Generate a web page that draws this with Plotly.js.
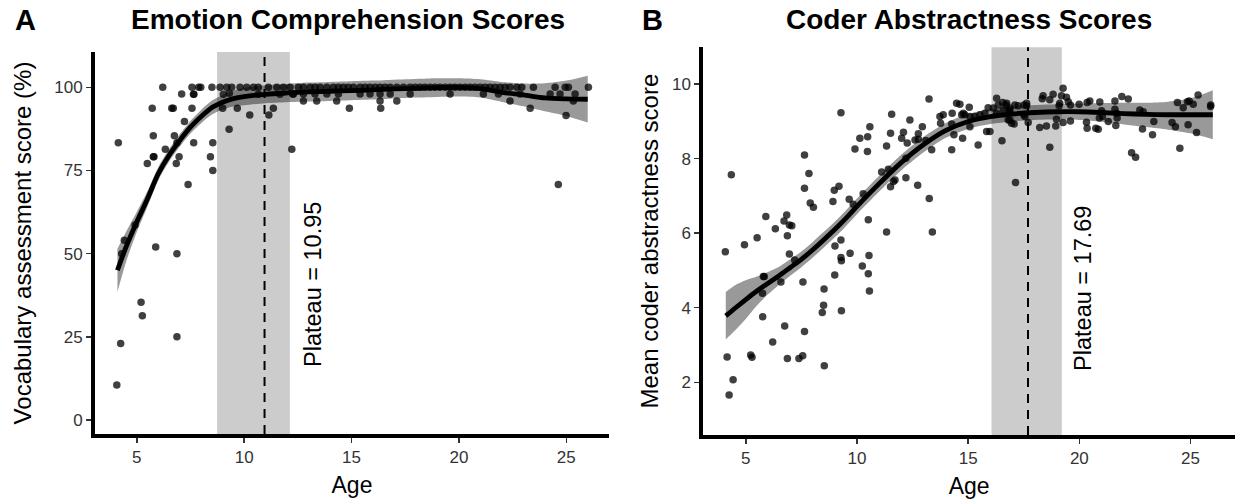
<!DOCTYPE html>
<html>
<head>
<meta charset="utf-8">
<script src="https://cdn.plot.ly/plotly-3.0.1.min.js"></script>
<style>html,body{margin:0;padding:0;background:#fff;}#chart{width:1238px;height:502px;}</style>
</head>
<body>
<div id="chart"></div>
<script>
// ---------- Panel A: Emotion Comprehension ----------
const ecAge = [4.14,4.07,4.25,4.30,4.42,4.92,5.20,5.26,5.88,5.49,5.77,5.80,5.77,5.72,6.21,6.33,6.63,6.70,6.75,6.87,6.84,6.97,6.87,6.87,7.09,7.22,7.39,7.57,7.64,7.66,7.65,7.57,7.88,7.98,8.43,8.54,8.54,8.50,8.88,9.19,9.42,9.00,9.03,9.31,9.30,9.68,9.81,10.12,10.43,10.66,10.26,10.66,11.15,11.36,11.13,11.52,11.83,12.14,11.67,12.29,12.22,
  12.52,12.76,13.07,13.30,13.54,13.85,14.15,14.39,14.62,14.85,15.09,15.40,15.63,15.86,16.10,16.33,16.56,16.80,17.11,17.42,17.73,17.96,18.19,18.42,18.66,18.89,19.12,19.36,19.59,19.82,20.05,20.29,20.52,20.75,20.99,21.22,21.45,21.68,21.92,22.15,22.38,22.70,22.93,23.47,24.48,24.95,25.10,26.03,
  12.26,12.76,13.30,13.85,14.39,15.40,15.86,16.33,16.80,17.73,19.59,21.14,21.84,22.85,24.25,24.71,25.41,
  12.76,13.38,14.31,16.33,17.11,22.38,25.33,
  14.90,16.36,23.32,24.99,24.63];
const ecScore = [83.3,10.5,23.0,50.0,54.0,58.6,35.4,31.3,52.0,77.1,79.1,79.1,85.4,93.7,100,81.4,93.7,93.7,85.4,83.3,77.1,79.1,50.0,25.0,98.0,89.7,70.8,93.7,97.9,97.9,83.3,100,100,100,79.1,83.3,75.0,100,100,100,100,93.7,97.9,98.2,87.4,93.7,100,100,100,100,91.7,97.9,91.7,93.7,100,100,100,100,97.9,97.9,81.4,
  100,100,100,100,100,100,100,100,100,100,100,100,100,100,100,100,100,100,100,100,100,100,100,100,100,100,100,100,100,100,100,100,100,100,100,100,100,100,100,100,100,100,100,100,100,100,100,100,
  98,98,98,98,98,98,98,98,98,98,98,98,98,98,98,98,98,
  95.9,95.9,95.9,95.9,95.9,95.9,95.9,
  93.7,93.7,93.7,91.5,70.8];
const ecFitAge = [4.1,4.5,5,5.5,6,6.5,7,7.5,8,8.5,9,9.5,10,11,12,13,14,15,16,17,18,19,20,21,22,23,24,25,26];
const ecFit    = [45,52,59.5,66.5,74,79.5,84,88,91.2,93.9,95.5,96.6,97.2,97.9,98.3,98.6,98.8,99,99.2,99.5,99.7,99.9,100,99.6,98.5,97.7,96.8,96.5,96.4];
const ecFitLo  = [38.5,47.5,56.5,64.2,72,77.6,82.1,86.1,89.2,91.8,93.3,94.2,94.6,95.2,95.5,95.7,95.9,96.1,96.3,96.6,96.9,97.1,97.2,96.9,95.6,94.3,92.8,91.4,89.4];
const ecFitHi  = [51.5,56.5,62.5,68.8,76,81.4,85.9,89.9,93.2,96,97.7,99,99.8,100.6,101,101.4,101.6,101.8,102,102.3,102.5,102.7,102.7,102.4,101.6,101.1,101.2,102,103.5];
const ecPlateau = 10.95, ecPlateauLo = 8.74, ecPlateauHi = 12.13;

// ---------- Panel B: Coder Abstractness ----------
const caAge = [4.08,4.35,4.16,4.43,4.25,4.94,5.51,5.90,6.33,5.79,5.83,5.75,5.76,5.22,5.28,6.21,6.75,6.58,6.87,7.39,7.56,7.64,7.57,6.84,6.72,6.96,7.07,6.87,6.96,7.20,7.64,7.84,7.64,7.90,8.04,8.52,8.50,8.44,8.53,9.00,9.01,9.28,9.28,9.30,9.30,8.92,8.98,9.19,9.28,9.69,9.65,9.83,10.28,10.24,9.91,10.13,10.48,10.47,10.58,10.51,10.54,10.51,10.56,
  13.24,11.56,11.51,11.33,12.09,12.01,12.26,12.38,12.76,12.94,12.61,12.76,13.10,13.36,12.20,11.11,11.41,11.64,11.71,11.51,12.20,12.73,13.25,11.33,13.39,13.76,13.88,14.28,14.48,14.63,14.26,14.36,14.26,14.75,14.71,14.85,15.05,15.08,15.30,15.53,15.75,15.90,15.08,15.45,15.83,15.98,16.28,16.13,16.35,16.55,16.70,17.10,16.28,16.58,16.85,17.25,16.88,17.07,16.52,17.13,
  13.73,14.78,16.95,17.70,18.22,18.52,
  19.27,18.37,18.82,19.20,18.33,18.67,19.42,19.50,19.60,16.73,16.88,17.51,17.63,16.88,17.51,17.63,16.80,17.55,18.94,18.97,19.27,19.60,19.09,19.12,18.67,19.99,20.35,20.47,20.92,21.00,21.04,20.32,20.35,20.74,20.85,20.90,21.30,21.60,21.91,22.20,21.60,21.67,21.70,21.64,22.35,22.53,22.72,22.87,22.84,23.35,23.29,24.17,24.32,24.41,24.67,24.86,24.94,25.12,24.89,25.34,25.27,24.52,25.90,25.91];
const caScore = [5.50,7.57,2.68,2.07,1.66,5.69,5.88,6.45,6.12,4.84,4.84,4.39,3.76,2.73,2.67,3.08,3.51,4.69,2.64,2.64,2.71,3.36,4.69,6.49,6.33,6.22,6.20,5.93,5.44,5.28,8.10,7.60,7.21,6.81,6.70,4.50,4.07,3.87,2.44,4.88,5.66,5.82,5.35,5.26,3.92,6.85,7.15,7.26,9.23,5.46,6.91,6.78,7.06,5.12,8.26,8.55,8.59,8.19,8.86,6.36,5.40,4.91,4.45,
  9.60,9.19,8.68,8.34,8.71,8.55,8.42,9.04,8.67,8.86,8.50,8.52,8.49,8.24,8.01,7.64,7.72,7.39,7.43,7.25,7.49,7.29,6.93,6.03,6.03,8.95,9.18,9.22,9.49,9.46,8.93,8.64,8.24,8.55,9.18,9.18,9.38,9.13,9.13,9.18,9.22,9.37,8.86,8.37,8.73,8.73,9.62,9.36,9.44,9.51,9.44,9.44,9.22,9.31,9.31,9.42,9.04,8.93,8.48,7.36,
  9.13,9.22,8.95,8.97,8.84,8.88,
  9.89,9.69,9.73,9.69,9.61,9.58,9.65,9.53,9.44,9.49,9.36,9.44,9.49,9.26,9.18,9.42,9.04,9.13,8.88,9.06,8.97,9.01,9.42,9.49,8.31,9.46,9.51,9.55,9.52,9.29,9.13,8.98,8.82,8.82,8.79,9.09,9.00,9.55,9.67,9.60,9.33,9.22,9.09,8.89,8.16,8.04,9.31,9.26,8.80,9.00,8.64,8.97,8.86,9.51,9.37,9.53,9.55,9.46,8.91,9.71,8.70,8.28,9.40,9.44];
const caFitAge = [4.1,4.5,5,5.5,6,6.5,7,7.5,8,8.5,9,9.5,10,11,12,13,14,15,16,17,18,19,20,21,22,23,24,25,26];
const caFit    = [3.78,3.98,4.22,4.45,4.66,4.86,5.08,5.3,5.55,5.82,6.1,6.4,6.72,7.33,7.9,8.38,8.76,9.0,9.13,9.2,9.24,9.26,9.26,9.24,9.21,9.19,9.18,9.18,9.18];
const caFitHi  = [4.42,4.6,4.74,4.84,4.96,5.1,5.3,5.51,5.76,6.03,6.31,6.61,6.93,7.54,8.11,8.59,8.96,9.2,9.33,9.4,9.44,9.46,9.48,9.49,9.5,9.5,9.53,9.62,9.84];
const caFitLo  = [3.15,3.38,3.7,4.06,4.36,4.62,4.86,5.09,5.34,5.61,5.89,6.19,6.51,7.12,7.69,8.17,8.56,8.8,8.93,9.0,9.04,9.05,9.04,8.99,8.92,8.85,8.78,8.68,8.52];
const caPlateau = 17.69, caPlateauLo = 16.05, caPlateauHi = 19.21;

const xTicks = [5,10,15,20,25];
const ecYTicks = [0,25,50,75,100];
const caYTicks = [2,4,6,8,10];

const FONT = 'Liberation Sans, Arial, Helvetica, sans-serif';
const ptColor = 'rgba(0,0,0,0.75)';
const ribbonColor = 'rgba(0,0,0,0.4)';

function panel(xa, ya, age, score, fx, fy, flo, fhi) {
  return [
    {type:'scatter', mode:'markers', x:age, y:score, xaxis:xa, yaxis:ya,
     marker:{size:7.5, color:ptColor, line:{width:0}}, hoverinfo:'skip'},
    {type:'scatter', mode:'lines', x:fx, y:flo, xaxis:xa, yaxis:ya,
     line:{width:0, color:'rgba(0,0,0,0)', shape:'spline', smoothing:0.8}, hoverinfo:'skip'},
    {type:'scatter', mode:'lines', x:fx, y:fhi, xaxis:xa, yaxis:ya, fill:'tonexty',
     fillcolor:ribbonColor, line:{width:0, color:'rgba(0,0,0,0)', shape:'spline', smoothing:0.8}, hoverinfo:'skip'},
    {type:'scatter', mode:'lines', x:fx, y:fy, xaxis:xa, yaxis:ya,
     line:{width:4.8, color:'#000', shape:'spline', smoothing:0.8}, hoverinfo:'skip'}
  ];
}

const data = [].concat(
  panel('x','y', ecAge, ecScore, ecFitAge, ecFit, ecFitLo, ecFitHi),
  panel('x2','y2', caAge, caScore, caFitAge, caFit, caFitLo, caFitHi)
);

const axisBase = {
  showline:true, linewidth:4, linecolor:'#000', mirror:false,
  ticks:'outside', ticklen:5, tickwidth:1.5, tickcolor:'#333',
  showgrid:false, zeroline:false, tickfont:{family:FONT, size:17, color:'#333'},
  fixedrange:true
};

const layout = {
  width:1238, height:502,
  margin:{l:0, r:0, t:0, b:0},
  paper_bgcolor:'#fff', plot_bgcolor:'rgba(0,0,0,0)',
  showlegend:false,
  font:{family:FONT, color:'#000'},
  xaxis: Object.assign({}, axisBase, {domain:[0.07674,0.49192], range:[3.055,26.99], tickvals:xTicks, anchor:'y',
    title:{text:'Age', font:{family:FONT, size:23, color:'#000'}, standoff:12}}),
  yaxis: Object.assign({}, axisBase, {domain:[0.1355,0.8964], range:[-4.2,110.6], tickvals:ecYTicks, anchor:'x',
    title:{text:'Vocabulary assessment score (%)', font:{family:FONT, size:24, color:'#000'}, standoff:17}}),
  xaxis2: Object.assign({}, axisBase, {domain:[0.5681,0.99758], range:[3.09,27.0], tickvals:xTicks, anchor:'y2',
    title:{text:'Age', font:{family:FONT, size:23, color:'#000'}, standoff:12}}),
  yaxis2: Object.assign({}, axisBase, {domain:[0.1335,0.9058], range:[0.585,10.99], tickvals:caYTicks, anchor:'x2',
    title:{text:'Mean coder abstractness score', font:{family:FONT, size:24, color:'#000'}, standoff:8}}),
  shapes:[
    {type:'rect', xref:'x', yref:'y domain', x0:ecPlateauLo, x1:ecPlateauHi, y0:0, y1:1, fillcolor:'#cccccc', line:{width:0}, layer:'below'},
    {type:'line', xref:'x', yref:'y domain', x0:ecPlateau, x1:ecPlateau, y0:0, y1:1, line:{color:'#000', width:2, dash:'9px,7px'}, layer:'below'},
    {type:'rect', xref:'x2', yref:'y2 domain', x0:caPlateauLo, x1:caPlateauHi, y0:0, y1:1, fillcolor:'#cccccc', line:{width:0}, layer:'below'},
    {type:'line', xref:'x2', yref:'y2 domain', x0:caPlateau, x1:caPlateau, y0:0, y1:1, line:{color:'#000', width:2, dash:'9px,7px'}, layer:'below'}
  ],
  annotations:[
    {text:'<b>A</b>', xref:'paper', yref:'paper', x:25/1238, y:(502-20)/502, xanchor:'center', yanchor:'middle', showarrow:false, font:{family:FONT, size:29, color:'#000'}},
    {text:'<b>B</b>', xref:'paper', yref:'paper', x:652/1238, y:(502-20)/502, xanchor:'center', yanchor:'middle', showarrow:false, font:{family:FONT, size:29, color:'#000'}},
    {text:'<b>Emotion Comprehension Scores</b>', xref:'paper', yref:'paper', x:348/1238, y:(502-20)/502, xanchor:'center', yanchor:'middle', showarrow:false, font:{family:FONT, size:28, color:'#000'}},
    {text:'<b>Coder Abstractness Scores</b>', xref:'paper', yref:'paper', x:969/1238, y:(502-20)/502, xanchor:'center', yanchor:'middle', showarrow:false, font:{family:FONT, size:28, color:'#000'}},
    {text:'Plateau = ' + ecPlateau.toFixed(2), xref:'x', yref:'y', x:13.21, y:40.6, textangle:-90, xanchor:'center', yanchor:'middle', showarrow:false, font:{family:FONT, size:23.5, color:'#000'}},
    {text:'Plateau = ' + caPlateau.toFixed(2), xref:'x2', yref:'y2', x:20.16, y:4.53, textangle:-90, xanchor:'center', yanchor:'middle', showarrow:false, font:{family:FONT, size:23.5, color:'#000'}}
  ]
};

Plotly.newPlot('chart', data, layout, {staticPlot:true, displayModeBar:false});
</script>
</body>
</html>
